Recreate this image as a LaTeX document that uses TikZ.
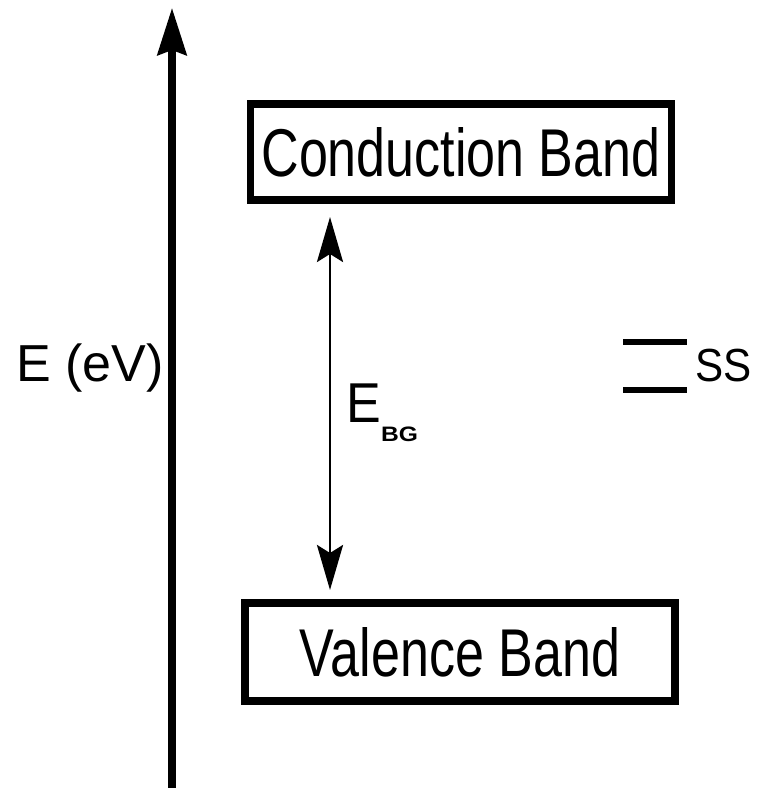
\documentclass[tikz,border=0pt]{standalone}
\usepackage{fontspec}
\setmainfont{Liberation Sans}
\usetikzlibrary{arrows.meta}

\begin{document}
\begin{tikzpicture}[
    >=Stealth,
    scale=1,
    band/.style={
        draw,
        line width=4pt,
        inner sep=0pt,
        outer sep=0pt,
        font=\fontsize{29.6}{30}\selectfont
    },
    label/.style={
        inner sep=0pt,
        font=\fontsize{29.6}{30}\selectfont
    },
    level/.style={
        line width=3.4pt
    }
]

\useasboundingbox (0,0) rectangle (15.14,15.76);

% ---------------- ENERGY AXIS ----------------

\coordinate (axis0) at (3.44,0);
\coordinate (axis1) at (3.44,15.6);

\draw[
    -{Stealth[length=0.94cm,width=0.58cm,inset=0.1cm]},
    line width=4pt
] (axis0) -- (axis1);

\node[label, anchor=base east] (elabel) at (3.28,8.12) {E (eV)};


% ---------------- BANDS ----------------

% conduction band
\node[
    band,
    minimum width=8.42cm,
    minimum height=1.92cm
] (cb) at (9.22,12.72) {\scalebox{1}[1.3]{Conduction Band}};

% valence band
\node[
    band,
    minimum width=8.6cm,
    minimum height=1.96cm
] (vb) at (9.2,2.72) {\scalebox{1}[1.3]{Valence Band}};


% ---------------- BAND GAP ----------------

\coordinate (gap) at (6.6,0);

\draw[
    {Stealth[length=0.9cm,width=0.52cm,inset=0.16cm]}-{Stealth[length=0.9cm,width=0.52cm,inset=0.16cm]},
    line width=1.7pt,
    shorten <=0.34cm,
    shorten >=0.26cm
] (cb.south -| gap) -- (vb.north -| gap);

\node[label, anchor=base west] (ebg) at (6.92,7.3)
    {\scalebox{1}[1.08]{E}\raisebox{-0.38cm}{\fontsize{14}{14}\selectfont\bfseries\scalebox{1}[0.85]{BG}}};


% ---------------- SURFACE STATES ----------------

\draw[level] (12.46,8.92) -- (13.74,8.92);
\draw[level] (12.46,7.96) -- (13.74,7.96);

\node[
    inner sep=0pt,
    anchor=base west,
    font=\fontsize{24}{24}\selectfont
] (ss) at (13.9,8.12) {\scalebox{1}[1.1]{SS}};

\end{tikzpicture}
\end{document}
